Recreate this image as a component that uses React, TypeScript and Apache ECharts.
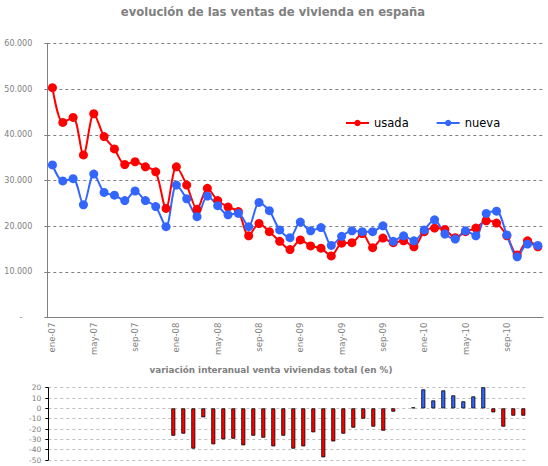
import React, { useEffect, useRef } from "react";
import * as echarts from "echarts";

const months = [
  "ene-07","feb-07","mar-07","abr-07","may-07","jun-07","jul-07","ago-07","sep-07","oct-07","nov-07","dic-07",
  "ene-08","feb-08","mar-08","abr-08","may-08","jun-08","jul-08","ago-08","sep-08","oct-08","nov-08","dic-08",
  "ene-09","feb-09","mar-09","abr-09","may-09","jun-09","jul-09","ago-09","sep-09","oct-09","nov-09","dic-09",
  "ene-10","feb-10","mar-10","abr-10","may-10","jun-10","jul-10","ago-10","sep-10","oct-10","nov-10","dic-10",
];

const usada = [
  50300, 42700, 43800, 35600, 44600, 39600, 36900, 33500, 34100, 33000, 31900, 23900,
  33000, 29000, 23700, 28300, 25600, 24200, 23200, 17900, 20600, 18800, 16700, 14900,
  17000, 15700, 15200, 13500, 16300, 16400, 18400, 15300, 17400, 16400, 16800, 15500,
  18800, 19600, 19300, 17500, 18800, 19600, 21200, 20700, 17900, 13700, 16800, 15500,
];

const nueva = [
  33400, 29900, 30400, 24700, 31400, 27400, 26800, 25600, 27700, 25600, 24300, 19900,
  29000, 26000, 22100, 26600, 24500, 22500, 22800, 19900, 25200, 23400, 19200, 17500,
  20900, 19000, 19700, 15800, 17800, 19000, 18800, 18800, 20100, 16700, 17900, 16800,
  19200, 21400, 18300, 17200, 19000, 17900, 22800, 23300, 18100, 13300, 16100, 15800,
];

const variacion = [
  null, null, null, null, null, null, null, null, null, null, null, null,
  -26.5, -24.5, -39, -8.7, -34.8, -30, -29.4, -35.8, -26.5, -28.4, -36.8, -26.5,
  -39, -36.8, -23.2, -47.4, -32, -24.5, -18.7, -10, -17.7, -21.6, -3.2, null,
  1, 18.4, 7.7, 17.4, 12.6, 6.8, 11.6, 22.6, -3.9, -17.7, -7.1, -7.1,
];

const seriesNames = ["usada", "nueva"];
const titleMain = "evolución de las ventas de vivienda en españa";
const titleSub = "variación interanual venta viviendas total (en %)";

const FONT = "'DejaVu Sans', Verdana, sans-serif";
const GREY = "#808080";
const RED = "#ff0000";
const BLUE = "#3366ff";

function fmtThousands(v: number): string {
  const s = Math.round(v).toString();
  return s.replace(/\B(?=(\d{3})+(?!\d))/g, ".");
}

export default function App() {
  const ref = useRef<HTMLDivElement>(null);

  useEffect(() => {
    document.body.style.margin = "0";
    if (!ref.current) return;
    const chart = echarts.init(ref.current, undefined, { renderer: "svg" });
    chart.setOption({
      animation: false,
      backgroundColor: "#ffffff",
      graphic: [
        {
          type: "text",
          x: 273,
          y: 12,
          style: {
            text: titleMain,
            font: `bold 11.6px ${FONT}`,
            fill: GREY,
            textAlign: "center",
            textVerticalAlign: "middle",
          },
        },
        {
          type: "text",
          x: 271,
          y: 370,
          style: {
            text: titleSub,
            font: `bold 8.8px ${FONT}`,
            fill: GREY,
            textAlign: "center",
            textVerticalAlign: "middle",
          },
        },
      ],
      legend: {
        data: seriesNames,
        left: 340,
        top: 112,
        itemWidth: 23,
        itemHeight: 8,
        itemGap: 27,
        textStyle: { fontFamily: FONT, fontSize: 11.5, color: "#000000" },
      },
      grid: [
        { left: 47.3, top: 43.3, right: 5, bottom: 148.3 },
        { left: 48.3, top: 387.7, right: 19.7, bottom: 6 },
      ],
      xAxis: [
        {
          type: "category",
          gridIndex: 0,
          data: months,
          boundaryGap: true,
          axisLine: { lineStyle: { color: GREY, width: 1 } },
          axisTick: { interval: 3, length: 4, alignWithLabel: false, lineStyle: { color: GREY } },
          axisLabel: {
            interval: 3,
            rotate: 90,
            margin: 5,
            fontSize: 8.5,
            fontFamily: FONT,
            color: GREY,
          },
          splitLine: { show: false },
        },
        {
          type: "category",
          gridIndex: 1,
          data: months,
          boundaryGap: true,
          show: false,
        },
      ],
      yAxis: [
        {
          type: "value",
          gridIndex: 0,
          min: 0,
          max: 60000,
          interval: 10000,
          axisLine: { show: true, lineStyle: { color: GREY, width: 1 } },
          axisTick: { show: true, length: 3, lineStyle: { color: GREY } },
          axisLabel: {
            margin: 15,
            fontSize: 8,
            fontFamily: FONT,
            color: GREY,
            formatter: (v: number) => (v === 0 ? "{z|-}" : fmtThousands(v)),
            rich: {
              z: { fontSize: 8, fontFamily: FONT, color: GREY, padding: [0, 10, 0, 0] },
            },
          },
          splitLine: { show: true, lineStyle: { color: GREY, type: [3, 3], width: 1 } },
        },
        {
          type: "value",
          gridIndex: 1,
          min: -50,
          max: 20,
          interval: 10,
          axisLine: { show: true, lineStyle: { color: "#000000", width: 1 } },
          axisTick: { show: true, length: 3, lineStyle: { color: "#000000" } },
          axisLabel: { margin: 7, fontSize: 7.5, fontFamily: FONT, color: GREY },
          splitLine: { show: true, lineStyle: { color: "#c0c0c0", type: [3, 3], width: 1 } },
        },
      ],
      series: [
        {
          name: seriesNames[0],
          type: "line",
          xAxisIndex: 0,
          yAxisIndex: 0,
          data: usada,
          smooth: 0.3,
          symbol: "circle",
          symbolSize: 9,
          showSymbol: true,
          showAllSymbol: true,
          lineStyle: { color: RED, width: 2 },
          itemStyle: { color: RED },
        },
        {
          name: seriesNames[1],
          type: "line",
          xAxisIndex: 0,
          yAxisIndex: 0,
          data: nueva,
          smooth: 0.3,
          symbol: "circle",
          symbolSize: 9,
          showSymbol: true,
          showAllSymbol: true,
          lineStyle: { color: BLUE, width: 2 },
          itemStyle: { color: BLUE },
        },
        {
          name: "variación",
          type: "bar",
          xAxisIndex: 1,
          yAxisIndex: 1,
          barWidth: 4,
          data: variacion.map((v) =>
            v === null
              ? null
              : { value: v, itemStyle: { color: v >= 0 ? BLUE : RED, borderColor: "#000000", borderWidth: 0.8 } }
          ),
        },
      ],
    });
    return () => chart.dispose();
  }, []);

  return <div ref={ref} style={{ width: 548, height: 466 }} />;
}
